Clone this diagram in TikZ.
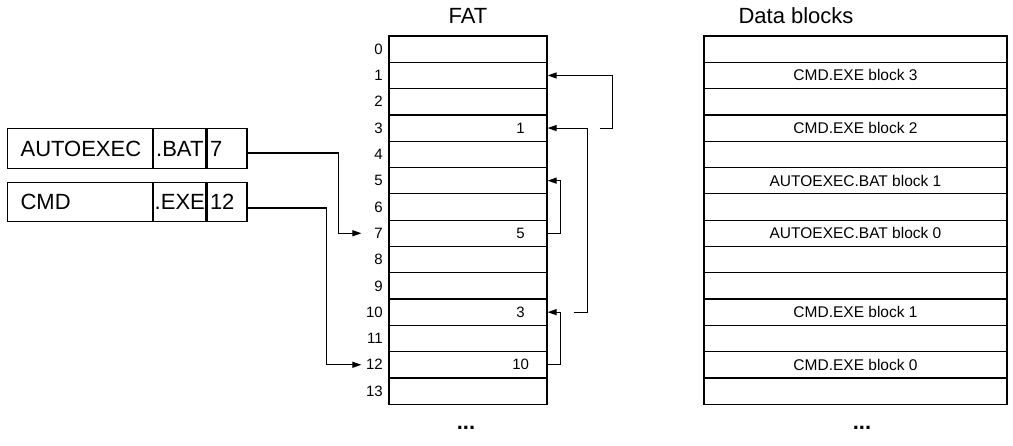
\documentclass[tikz,border=0pt]{standalone}
\usepackage{fontspec}
\setmainfont{Liberation Sans}
\usetikzlibrary{arrows.meta, positioning, calc}
\tikzset{
    fatdiagram/.style={x=1pt, y=-1pt, line width=1.2pt, >={Triangle[length=9pt, width=6pt]}},
    cell/.style={draw, minimum width=158pt, minimum height=26.3pt, inner sep=0pt},
    blockcell/.style={cell, minimum width=303pt, font=\fontsize{15.5}{18}\selectfont},
    rowlabel/.style={inner sep=0pt, font=\fontsize{15}{18}\selectfont},
    entry/.style={inner sep=0pt, font=\fontsize{15}{18}\selectfont},
    title/.style={font=\fontsize{22}{26}\selectfont},
    dircell/.style={draw, minimum height=39.5pt, font=\fontsize{22}{26}\selectfont},
    dirname/.style={dircell, inner xsep=13pt, text width=119pt, align=left, anchor=west},
    dirext/.style={dircell, minimum width=52pt, inner xsep=0pt},
    dirclus/.style={dircell, inner xsep=3pt, text width=34pt, align=left},
    link/.style={->, line width=1.1pt},
}

\begin{document}
\begin{tikzpicture}[fatdiagram]
    \useasboundingbox (0,0) rectangle (1013,445);

    % FAT and data block tables
    \foreach \i/\txt in {0/, 1/CMD.EXE block 3, 2/, 3/CMD.EXE block 2, 4/,
            5/AUTOEXEC.BAT block 1, 6/, 7/AUTOEXEC.BAT block 0, 8/, 9/,
            10/CMD.EXE block 1, 11/, 12/CMD.EXE block 0, 13/} {
        \node[cell]                       (fat\i) at (468, {49.15+26.3*\i}) {};
        \node[rowlabel, left=5pt of fat\i.west] (idx\i) {\i};
        \node[blockcell]                  (blk\i) at (855.5, {49.15+26.3*\i}) {\txt};
    }
    \foreach \i/\v in {3/1, 7/5, 10/3, 12/10}
        \node[entry] (val\i) at ([xshift=-27pt]fat\i.east) {\v};

    \node[title] (fattitle) at (468,16) {FAT};
    \node[title] (blktitle) at (796,16) {Data blocks};
    \node[title, font=\fontsize{22}{26}\selectfont\bfseries] (fatmore) at (466,428) {...};
    \node[title, font=\fontsize{22}{26}\selectfont\bfseries] (blkmore) at (862,428) {...};

    % directory entries
    \node[dirname]                    (name1) at (7,148.5) {AUTOEXEC};
    \node[dirext, right=0pt of name1] (ext1)  {.BAT};
    \node[dirclus, right=0pt of ext1] (clus1) {7};
    \node[dirname]                    (name2) at (7,202) {CMD};
    \node[dirext, right=0pt of name2] (ext2)  {.EXE};
    \node[dirclus, right=0pt of ext2] (clus2) {12};

    % first clusters
    \draw[link, shorten >=27pt] ([yshift=-4.5pt]clus1.east) -- ++(91,0) |- (fat7.west);
    \draw[link, shorten >=27pt] ([yshift=-6pt]clus2.east) -- ++(79,0) |- (fat12.west);

    % cluster chains
    \draw[link] (fat7.east) -- ++(13,0) |- (fat5.east);
    \draw[link] (fat12.east) -- ++(13,0) |- (fat10.east);
    \draw[link] ([xshift=26pt]fat10.east) -- ++(14,0) |- (fat3.east);
    \draw[link] ([xshift=52pt]fat3.east) -- ++(13,0) |- (fat1.east);
\end{tikzpicture}
\end{document}
